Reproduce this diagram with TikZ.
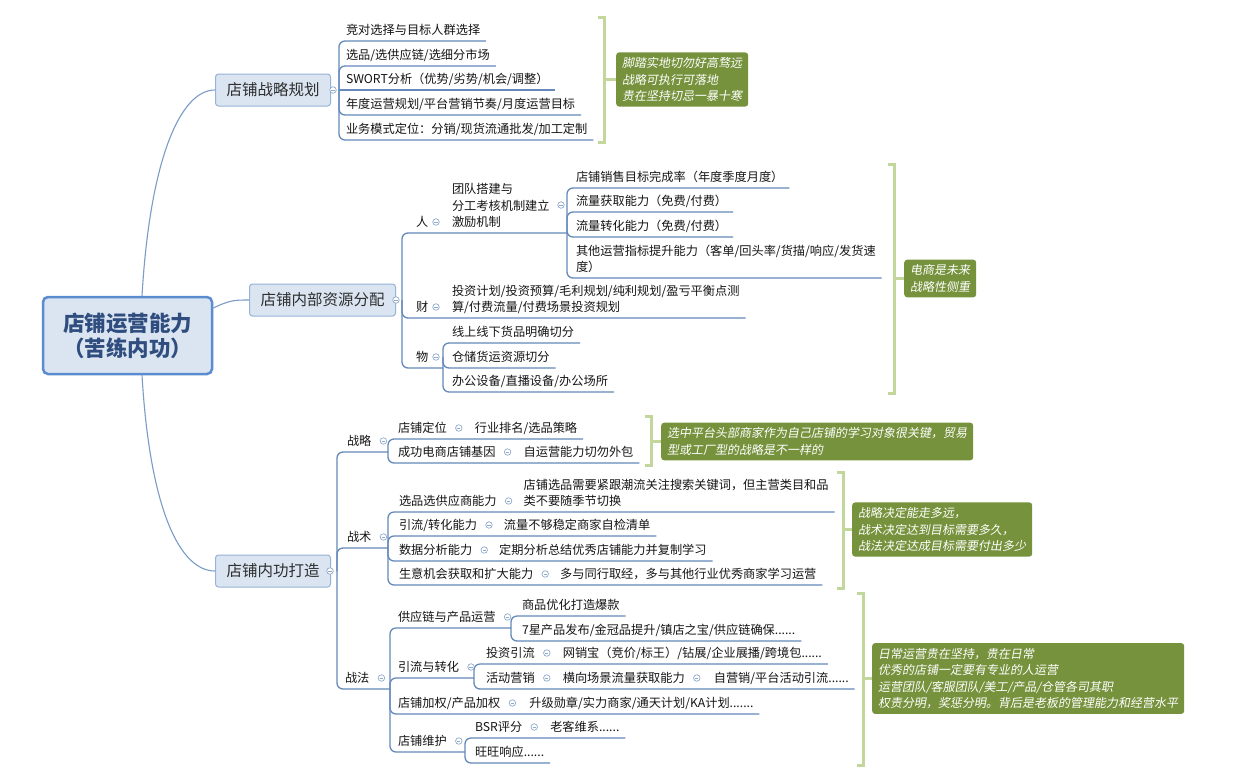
\documentclass[tikz,border=0pt]{standalone}
\usepackage{fontspec}
\setmainfont{Noto Sans CJK SC}
\newfontfamily\slfont{Noto Sans CJK SC}[FakeSlant=0.18]
\usetikzlibrary{calc}
\definecolor{connc}{HTML}{6489BA}
\definecolor{curvec}{HTML}{7B9CC8}
\definecolor{collc}{HTML}{8FA9CC}
\definecolor{boxfill}{HTML}{DBE5F1}
\definecolor{boxdraw}{HTML}{95B3D7}
\definecolor{centerdraw}{HTML}{5B8BD0}
\definecolor{centertext}{HTML}{2F4D7E}
\definecolor{brackc}{HTML}{C3D69B}
\definecolor{sumfill}{HTML}{76923C}
\definecolor{itemc}{HTML}{151515}
\newcommand\dpfix{\rule[-6.5pt]{0pt}{6.5pt}}
\begin{document}
\begin{tikzpicture}[x=1pt,y=-1pt,
  conn/.style={draw=connc,line width=1.3pt,rounded corners=6pt},
  curve/.style={draw=curvec,line width=1.1pt},
  item/.style={anchor=south west,inner sep=0pt,outer sep=0pt,font=\fontsize{12.2}{16.5}\selectfont,text=itemc,align=left,execute at end node=\dpfix},
  topic/.style={draw=boxdraw,fill=boxfill,line width=1pt,rounded corners=3pt,anchor=west,inner xsep=11pt,minimum height=32pt,font=\fontsize{15.5}{18}\selectfont,text=black!82},
  root/.style={draw=centerdraw,fill=boxfill,line width=2.5pt,rounded corners=5pt,minimum width=169pt,minimum height=77pt,align=center,font=\fontsize{21.5}{25}\selectfont\bfseries,text=centertext},
  coll/.style={circle,draw=collc,fill=white,line width=0.7pt,minimum size=6.5pt,inner sep=0pt,path picture={\draw[collc,line width=0.7pt] ([xshift=1.6pt]path picture bounding box.west) -- ([xshift=-1.6pt]path picture bounding box.east);}},
  brack/.style={draw=brackc,line width=3pt},
  summary/.style={fill=sumfill,text=white,rounded corners=3pt,align=left,anchor=west,inner xsep=6pt,inner ysep=5pt,font=\slfont\fontsize{12}{16.5}\selectfont},
]
\fill[white] (0,0) rectangle (1236,777);
\useasboundingbox (0,0) rectangle (1236,777);

% root
\node[root] (root) at (127.5,335.5) {店铺运营能力\\（苦练内功）};

% ===== branch 1
\node[topic] (p1) at (215,90) {店铺战略规划};
\coordinate (v1) at (339,90);
\node[item] (a1) at (346,41) {竞对选择与目标人群选择};
\node[item] (a2) at (346,66) {选品/选供应链/选细分市场};
\node[item] (a3) at (346,90) {SWORT分析（优势/劣势/机会/调整）};
\node[item] (a4) at (346,115) {年度运营规划/平台营销节奏/月度运营目标};
\node[item] (a5) at (346,140) {业务模式定位：分销/现货流通批发/加工定制};
\node[summary] (s1) at (616,79.5) {脚踏实地切勿好高骛远\\战略可执行可落地\\贵在坚持切忌一暴十寒};

% ===== branch 2
\node[topic] (p2) at (249,300) {店铺内部资源分配};
\coordinate (v2) at (402,300);
\node[item] (ren) at (416,233) {人};
\node[item] (tuan) at (452,233) {团队搭建与\\分工考核机制建立\\激励机制};
\coordinate (v21) at (567,225);
\node[item] (b1) at (576,188) {店铺销售目标完成率（年度季度月度）};
\node[item] (b2) at (576,212) {流量获取能力（免费/付费）};
\node[item] (b3) at (576,237) {流量转化能力（免费/付费）};
\node[item] (b4) at (576,278) {其他运营指标提升能力（客单/回头率/货描/响应/发货速\\度）};
\node[item] (cai) at (416,318) {财};
\node[item] (caic) at (452,318) {投资计划/投资预算/毛利规划/纯利规划/盈亏平衡点测\\算/付费流量/付费场景投资规划};
\node[item] (wu) at (416,368) {物};
\coordinate (v23) at (443,357);
\node[item] (w1) at (452,343) {线上线下货品明确切分};
\node[item] (w2) at (452,368) {仓储货运资源切分};
\node[item] (w3) at (452,392) {办公设备/直播设备/办公场所};
\node[summary] (s2) at (904,278.5) {电商是未来\\战略性侧重};

% ===== branch 3
\node[topic] (p3) at (215,571) {店铺内功打造};
\coordinate (v3) at (337,571);
\node[item] (zl) at (347,452) {战略};
\coordinate (v31) at (388,452);
\node[item] (zl1) at (398,439) {店铺定位};
\node[item] (zl1c) at ($(zl1.south east)+(28,0)$) {行业排名/选品策略};
\node[item] (zl2) at (398,463) {成功电商店铺基因};
\node[item] (zl2c) at ($(zl2.south east)+(28,0)$) {自运营能力切勿外包};
\node[summary] (s3) at (661,441.5) {选中平台头部商家作为自己店铺的学习对象很关键，贸易\\型或工厂型的战略是不一样的};

\node[item] (zs) at (347,548) {战术};
\coordinate (v32) at (388,548);
\node[item] (zs1) at (399,512) {选品选供应商能力};
\node[item] (zs1c) at ($(zs1.south east)+(27,0)$) {店铺选品需要紧跟潮流关注搜索关键词，但主营类目和品\\类不要随季节切换};
\node[item] (zs2) at (399,536) {引流/转化能力};
\node[item] (zs2c) at ($(zs2.south east)+(27,0)$) {流量不够稳定商家自检清单};
\node[item] (zs3) at (399,561) {数据分析能力};
\node[item] (zs3c) at ($(zs3.south east)+(27,0)$) {定期分析总结优秀店铺能力并复制学习};
\node[item] (zs4) at (399,585) {生意机会获取和扩大能力};
\node[item] (zs4c) at ($(zs4.south east)+(27,0)$) {多与同行取经，多与其他行业优秀商家学习运营};
\node[summary] (s4) at (852,529.5) {战略决定能走多远，\\战术决定达到目标需要多久，\\战法决定达成目标需要付出多少};

\node[item] (zf) at (345,689) {战法};
\coordinate (v33) at (390,689);
\node[item] (g1) at (398,628) {供应链与产品运营};
\coordinate (v331) at (511,628);
\node[item] (g11) at (522,616) {商品优化打造爆款};
\node[item] (g12) at (522,641) {7星产品发布/金冠品提升/镇店之宝/供应链确保......};
\node[item] (g2) at (398,678) {引流与转化};
\coordinate (v332) at (474,678);
\node[item] (g21) at (486,664) {投资引流};
\node[item] (g21c) at ($(g21.south east)+(28,0)$) {网销宝（竞价/标王）/钻展/企业展播/跨境包......};
\node[item] (g22) at (486,689) {活动营销};
\node[item] (g22c) at ($(g22.south east)+(28,0)$) {横向场景流量获取能力};
\node[item] (g22d) at ($(g22c.south east)+(29,0)$) {自营销/平台活动引流......};
\node[item] (g3) at (398,714) {店铺加权/产品加权};
\node[item] (g3c) at ($(g3.south east)+(29,0)$) {升级勋章/实力商家/通天计划/KA计划.......};
\node[item] (g4) at (398,752) {店铺维护};
\coordinate (v334) at (465,752);
\node[item] (g41) at (475,738) {BSR评分};
\node[item] (g41c) at ($(g41.south east)+(28,0)$) {老客维系......};
\node[item] (g42) at (475,763) {旺旺响应......};
\node[summary] (s5) at (872,678.5) {日常运营贵在坚持，贵在日常\\优秀的店铺一定要有专业的人运营\\运营团队/客服团队/美工/产品/仓管各司其职\\权责分明，奖惩分明。背后是老板的管理能力和经营水平};

% ===== root curves
\draw[curve] ([xshift=14.5pt]root.north) .. controls (150,160) and (180,90) .. (p1.west);
\draw[curve] ([yshift=27.5pt]root.east) .. controls (230,300) and (235,300) .. (p2.west);
\draw[curve] ([xshift=14.5pt]root.south) .. controls (150,510) and (180,571) .. (p3.west);

% ===== connectors branch 1
\foreach \n in {a1,a2,a4,a5}{\draw[conn] (v1) |- ([xshift=6pt]\n.south east);}
\draw[conn] (v1) -- ([xshift=6pt]a3.south east);

% ===== connectors branch 2
\draw[conn] (v2) |- (v21 |- ren.south);
\foreach \n in {b1,b2,b3,b4}{\draw[conn] (v21) |- ([xshift=6pt]\n.south east);}
\draw[conn] (v2) |- ([xshift=6pt]caic.south east);
\draw[conn] (v2) |- (v23 |- wu.south);
\foreach \n in {w1,w2,w3}{\draw[conn] (v23) |- ([xshift=6pt]\n.south east);}

% ===== connectors branch 3
\draw[conn] (v3) |- (v31);
\draw[conn] (v3) |- (v32);
\draw[conn] (v3) |- (v33);
\foreach \n in {zl1c,zl2c}{\draw[conn] (v31) |- ([xshift=6pt]\n.south east);}
\foreach \n in {zs1c,zs2c,zs3c,zs4c}{\draw[conn] (v32) |- ([xshift=6pt]\n.south east);}
\draw[conn] (v33) |- (v331);
\draw[conn] (v33) |- (v332);
\draw[conn] (v33) |- ([xshift=6pt]g3c.south east);
\draw[conn] (v33) |- (v334);
\foreach \n in {g11,g12}{\draw[conn] (v331) |- ([xshift=6pt]\n.south east);}
\foreach \n in {g21c,g22d}{\draw[conn] (v332) |- ([xshift=6pt]\n.south east);}
\foreach \n in {g41c,g42}{\draw[conn] (v334) |- ([xshift=6pt]\n.south east);}

% ===== brackets
\draw[brack] (598,17) -- (604,17) -- (604,142) -- (598,142);
\draw[brack] (604,79.5) -- (s1.west);
\draw[brack] (888,164) -- (894,164) -- (894,393) -- (888,393);
\draw[brack] (894,278.5) -- (s2.west);
\draw[brack] (645,416) -- (651,416) -- (651,465) -- (645,465);
\draw[brack] (651,441.5) -- (s3.west);
\draw[brack] (837,472) -- (843,472) -- (843,588) -- (837,588);
\draw[brack] (843,529.5) -- (s4.west);
\draw[brack] (857,593) -- (863,593) -- (863,765) -- (857,765);
\draw[brack] (863,678.5) -- (s5.west);

% ===== collapse markers
\node[coll] (k1) at (333,90) {};
\node[coll] (k2) at (396,300) {};
\node[coll] (k3) at (330,571) {};
\node[coll] (kren) at (436,222) {};
\node[coll] (ktuan) at (561,205) {};
\node[coll] (kcai) at (436,307) {};
\node[coll] (kwu) at (436,357) {};
\foreach \n in {zl,zs,zf,zl1,zl2,zs1,zs2,zs3,zs4,g1,g2,g21,g22,g22c,g3,g4,g41}{\node[coll] at ($(\n.south east)+(12,-11)$) {};}
\end{tikzpicture}
\end{document}
